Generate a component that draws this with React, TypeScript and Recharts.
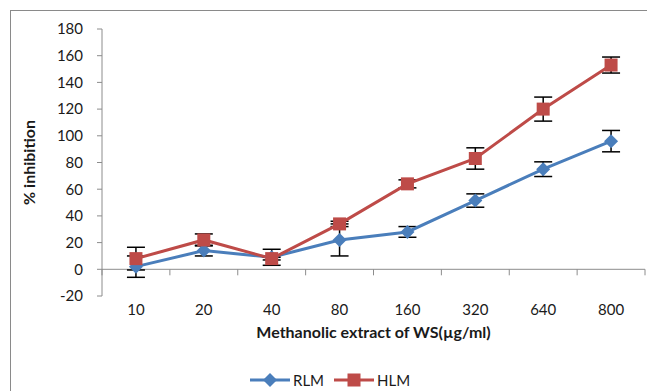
import { LineChart, Line, XAxis, YAxis, ErrorBar, ReferenceLine } from 'recharts';

const concentrations = ['10', '20', '40', '80', '160', '320', '640', '800'];
const rlmValues = [2, 14, 9, 22, 28, 51.5, 75, 96];
const rlmErrors = [8, 4, 6, 12, 4, 5, 5.5, 8];
const hlmValues = [8, 22, 8, 34, 64, 83, 120, 153];
const hlmErrors = [8.5, 4.5, 1, 2, 3, 8, 9, 6];
const yTicks = [-20, 0, 20, 40, 60, 80, 100, 120, 140, 160, 180];

const series = [
  { key: 'rlm', name: 'RLM', color: '#4a7ebb', shape: 'diamond' },
  { key: 'hlm', name: 'HLM', color: '#be4b48', shape: 'square' },
];

const data = concentrations.map((c, i) => ({
  conc: c,
  rlm: rlmValues[i],
  rlmErr: rlmErrors[i],
  hlm: hlmValues[i],
  hlmErr: hlmErrors[i],
}));

const W = 647;
const H = 391;
const FONT = 'Lato, "Open Sans", sans-serif';
const AXIS_GRAY = '#8c8c8c';
const TEXT = '#1a1a1a';

// plot area, in px
const PLOT_LEFT = 102;
const PLOT_RIGHT = 645;
const PLOT_TOP = 29;
const PLOT_BOTTOM = 296;
const Y_MIN = -20;
const Y_MAX = 180;
const Y_AXIS_W = 92;
const X_AXIS_H = 50;

const bandWidth = (PLOT_RIGHT - PLOT_LEFT) / concentrations.length;
const zeroY = PLOT_TOP + ((Y_MAX - 0) / (Y_MAX - Y_MIN)) * (PLOT_BOTTOM - PLOT_TOP);

function Diamond({ cx, cy, fill }: any) {
  if (cx == null || cy == null) return null;
  const r = 7;
  return <path d={`M${cx},${cy - r} L${cx + r},${cy} L${cx},${cy + r} L${cx - r},${cy} Z`} fill={fill} />;
}

function Square({ cx, cy, fill }: any) {
  if (cx == null || cy == null) return null;
  const s = 13;
  return <rect x={cx - s / 2} y={cy - s / 2} width={s} height={s} fill={fill} />;
}

function XTick({ x, payload, index }: any) {
  const left = x - bandWidth / 2;
  return (
    <g>
      <line x1={left} x2={left} y1={zeroY} y2={zeroY + 6} stroke={AXIS_GRAY} strokeWidth={1} />
      {index === concentrations.length - 1 && (
        <line x1={x + bandWidth / 2} x2={x + bandWidth / 2} y1={zeroY} y2={zeroY + 6} stroke={AXIS_GRAY} strokeWidth={1} />
      )}
      <text x={x} y={PLOT_BOTTOM + 13} textAnchor="middle" dominantBaseline="central" fontSize={15} fill={TEXT} fontFamily={FONT}>
        {payload.value}
      </text>
    </g>
  );
}

function LegendIcon({ color, shape }: { color: string; shape: string }) {
  return (
    <svg width={40} height={16} style={{ display: 'block' }}>
      <line x1={0} x2={40} y1={8} y2={8} stroke={color} strokeWidth={3} />
      {shape === 'diamond' ? <Diamond cx={20} cy={8} fill={color} /> : <Square cx={20} cy={8} fill={color} />}
    </svg>
  );
}

export default function App() {
  return (
    <div style={{ position: 'fixed', left: 0, top: 0, width: W, height: H, background: '#fff', overflow: 'hidden', fontFamily: FONT }}>
      <div
        style={{
          position: 'absolute',
          left: 10,
          top: 10,
          width: W,
          height: H,
          borderTop: '1.5px solid #8a8a8a',
          borderLeft: '1.5px solid #8a8a8a',
        }}
      />
      <div style={{ position: 'absolute', left: 0, top: 0 }}>
        <LineChart
          width={W}
          height={H}
          data={data}
          margin={{ top: PLOT_TOP, right: W - PLOT_RIGHT, left: PLOT_LEFT - Y_AXIS_W, bottom: H - PLOT_BOTTOM - X_AXIS_H }}
        >
          <XAxis
            dataKey="conc"
            scale="band"
            height={X_AXIS_H}
            axisLine={false}
            tickLine={false}
            interval={0}
            tick={<XTick />}
            label={{
              value: 'Methanolic extract of WS(µg/ml)',
              position: 'insideBottom',
              offset: 8,
              style: { fontWeight: 700, fontSize: 16, fill: TEXT, fontFamily: FONT },
            }}
          />
          <YAxis
            width={Y_AXIS_W}
            domain={[Y_MIN, Y_MAX]}
            ticks={yTicks}
            interval={0}
            allowDataOverflow
            stroke={AXIS_GRAY}
            tickSize={5}
            tickMargin={14}
            tick={{ fontSize: 15, fill: TEXT, fontFamily: FONT }}
            label={{
              value: '% inhibition',
              angle: -90,
              position: 'insideLeft',
              offset: 19,
              style: { textAnchor: 'middle', fontWeight: 700, fontSize: 16, fill: TEXT, fontFamily: FONT },
            }}
          />
          <ReferenceLine y={0} stroke={AXIS_GRAY} strokeWidth={1} />
          <Line
            dataKey="rlm"
            name="RLM"
            stroke="#4a7ebb"
            strokeWidth={3}
            dot={false}
            activeDot={false}
            isAnimationActive={false}
          >
            <ErrorBar dataKey="rlmErr" width={9} stroke="#000" strokeWidth={1.5} direction="y" isAnimationActive={false} />
          </Line>
          <Line
            dataKey="rlm"
            stroke="none"
            legendType="none"
            dot={<Diamond fill="#4a7ebb" />}
            activeDot={false}
            isAnimationActive={false}
          />
          <Line
            dataKey="hlm"
            name="HLM"
            stroke="#be4b48"
            strokeWidth={3}
            dot={false}
            activeDot={false}
            isAnimationActive={false}
          >
            <ErrorBar dataKey="hlmErr" width={9} stroke="#000" strokeWidth={1.5} direction="y" isAnimationActive={false} />
          </Line>
          <Line
            dataKey="hlm"
            stroke="none"
            legendType="none"
            dot={<Square fill="#be4b48" />}
            activeDot={false}
            isAnimationActive={false}
          />
        </LineChart>
      </div>
      <div style={{ position: 'absolute', left: 250, top: 371, display: 'flex', alignItems: 'center', gap: 10 }}>
        {series.map((s) => (
          <div key={s.key} style={{ display: 'flex', alignItems: 'center', gap: 3 }}>
            <LegendIcon color={s.color} shape={s.shape} />
            <span style={{ fontSize: 15, color: TEXT, lineHeight: '18px' }}>{s.name}</span>
          </div>
        ))}
      </div>
    </div>
  );
}
